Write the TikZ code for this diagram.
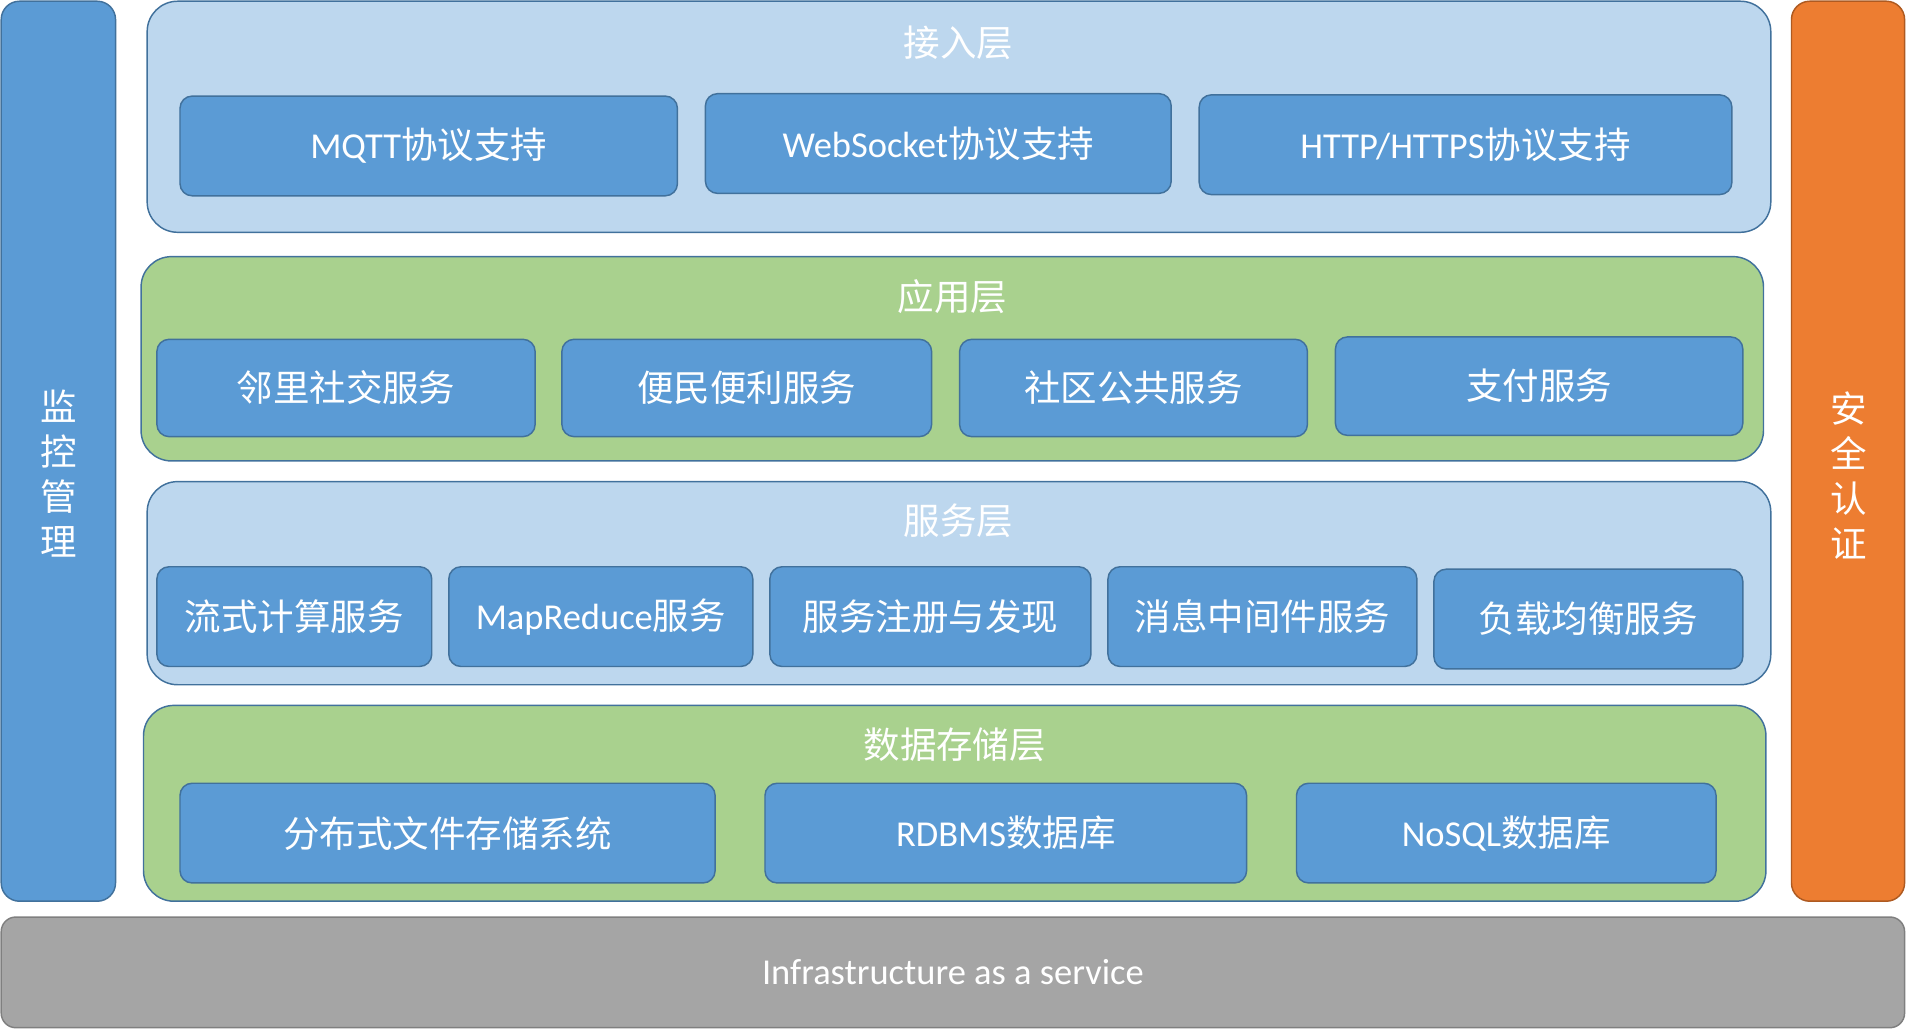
\documentclass[tikz,border=0pt]{standalone}
\usepackage{fontspec}
\setmainfont{Carlito}
\newfontfamily\cjk{Noto Sans CJK SC}
\definecolor{blueF}{HTML}{5B9BD5}
\definecolor{blueL}{HTML}{41719C}
\definecolor{lightB}{HTML}{BDD7EE}
\definecolor{greenF}{HTML}{A9D18E}
\definecolor{orangeF}{HTML}{ED7D31}
\definecolor{orangeL}{HTML}{AE5A21}
\definecolor{grayF}{HTML}{A5A5A5}
\definecolor{grayL}{HTML}{7F7F7F}
\newcommand\zh[1]{{\cjk #1}}
\newcommand\mybox[7]{\node[#1, minimum width={(#5)-(#3)}, minimum height={(#6)-(#4)}] (#2) at ({((#3)+(#5))/2},{((#4)+(#6))/2}) {#7};}
\begin{document}
\begin{tikzpicture}[x=1pt,y=-1pt,
  base/.style={draw=blueL, line width=1.2pt, rounded corners=10pt, inner sep=0pt,
    text=white, font=\fontsize{30}{36}\selectfont},
  item/.style={base, fill=blueF},
  layerA/.style={base, fill=lightB, rounded corners=25pt},
  layerG/.style={base, fill=greenF, rounded corners=25pt},
  sidebar/.style={base, rounded corners=15pt},
  title/.style={text=white, inner sep=0pt, font=\cjk\fontsize{30}{36}\selectfont},
  vtext/.style={text=white, inner sep=0pt, align=center, font=\cjk\fontsize{30}{37}\selectfont}]
\useasboundingbox (0,0) rectangle (1568,846);
% side bars
\mybox{sidebar, fill=blueF}{mon}{1}{1}{95}{741}{}
\node[vtext] (monT) at (48,389) {监\\控\\管\\理};
\mybox{sidebar, fill=orangeF, draw=orangeL}{sec}{1473}{1}{1566}{741}{}
\node[vtext] (secT) at (1520,391) {安\\全\\认\\证};
% access layer
\mybox{layerA}{acc}{121}{1}{1456}{191}{}
\node[title] (accT) at (788,35) {接入层};
\mybox{item}{mqtt}{148}{79}{557}{161}{MQTT\zh{协议支持}}
\mybox{item}{ws}{580}{77}{963}{159}{WebSocket\zh{协议支持}}
\mybox{item}{http}{986}{78}{1424}{160}{HTTP/HTTPS\zh{协议支持}}
% application layer
\mybox{layerG}{app}{116}{211}{1450}{379}{}
\node[title] (appT) at (783,244) {应用层};
\mybox{item}{a1}{129}{279}{440}{359}{\zh{邻里社交服务}}
\mybox{item}{a2}{462}{279}{766}{359}{\zh{便民便利服务}}
\mybox{item}{a3}{789}{279}{1075}{359}{\zh{社区公共服务}}
\mybox{item}{a4}{1098}{277}{1433}{358}{\zh{支付服务}}
% service layer
\mybox{layerA}{srv}{121}{396}{1456}{563}{}
\node[title] (srvT) at (788,428) {服务层};
\mybox{item}{s1}{129}{466}{355}{548}{\zh{流式计算服务}}
\mybox{item}{s2}{369}{466}{619}{548}{MapReduce\zh{服务}}
\mybox{item}{s3}{633}{466}{897}{548}{\zh{服务注册与发现}}
\mybox{item}{s4}{911}{466}{1165}{548}{\zh{消息中间件服务}}
\mybox{item}{s5}{1179}{468}{1433}{550}{\zh{负载均衡服务}}
% data layer
\mybox{layerG}{dat}{118}{580}{1452}{741}{}
\node[title] (datT) at (785,612) {数据存储层};
\mybox{item}{d1}{148}{644}{588}{726}{\zh{分布式文件存储系统}}
\mybox{item}{d2}{629}{644}{1025}{726}{RDBMS\zh{数据库}}
\mybox{item}{d3}{1066}{644}{1411}{726}{NoSQL\zh{数据库}}
% infrastructure
\mybox{base, fill=grayF, draw=grayL, rounded corners=12pt}{iaas}{1}{754}{1566}{845}{Infrastructure as a service}
\end{tikzpicture}
\end{document}
